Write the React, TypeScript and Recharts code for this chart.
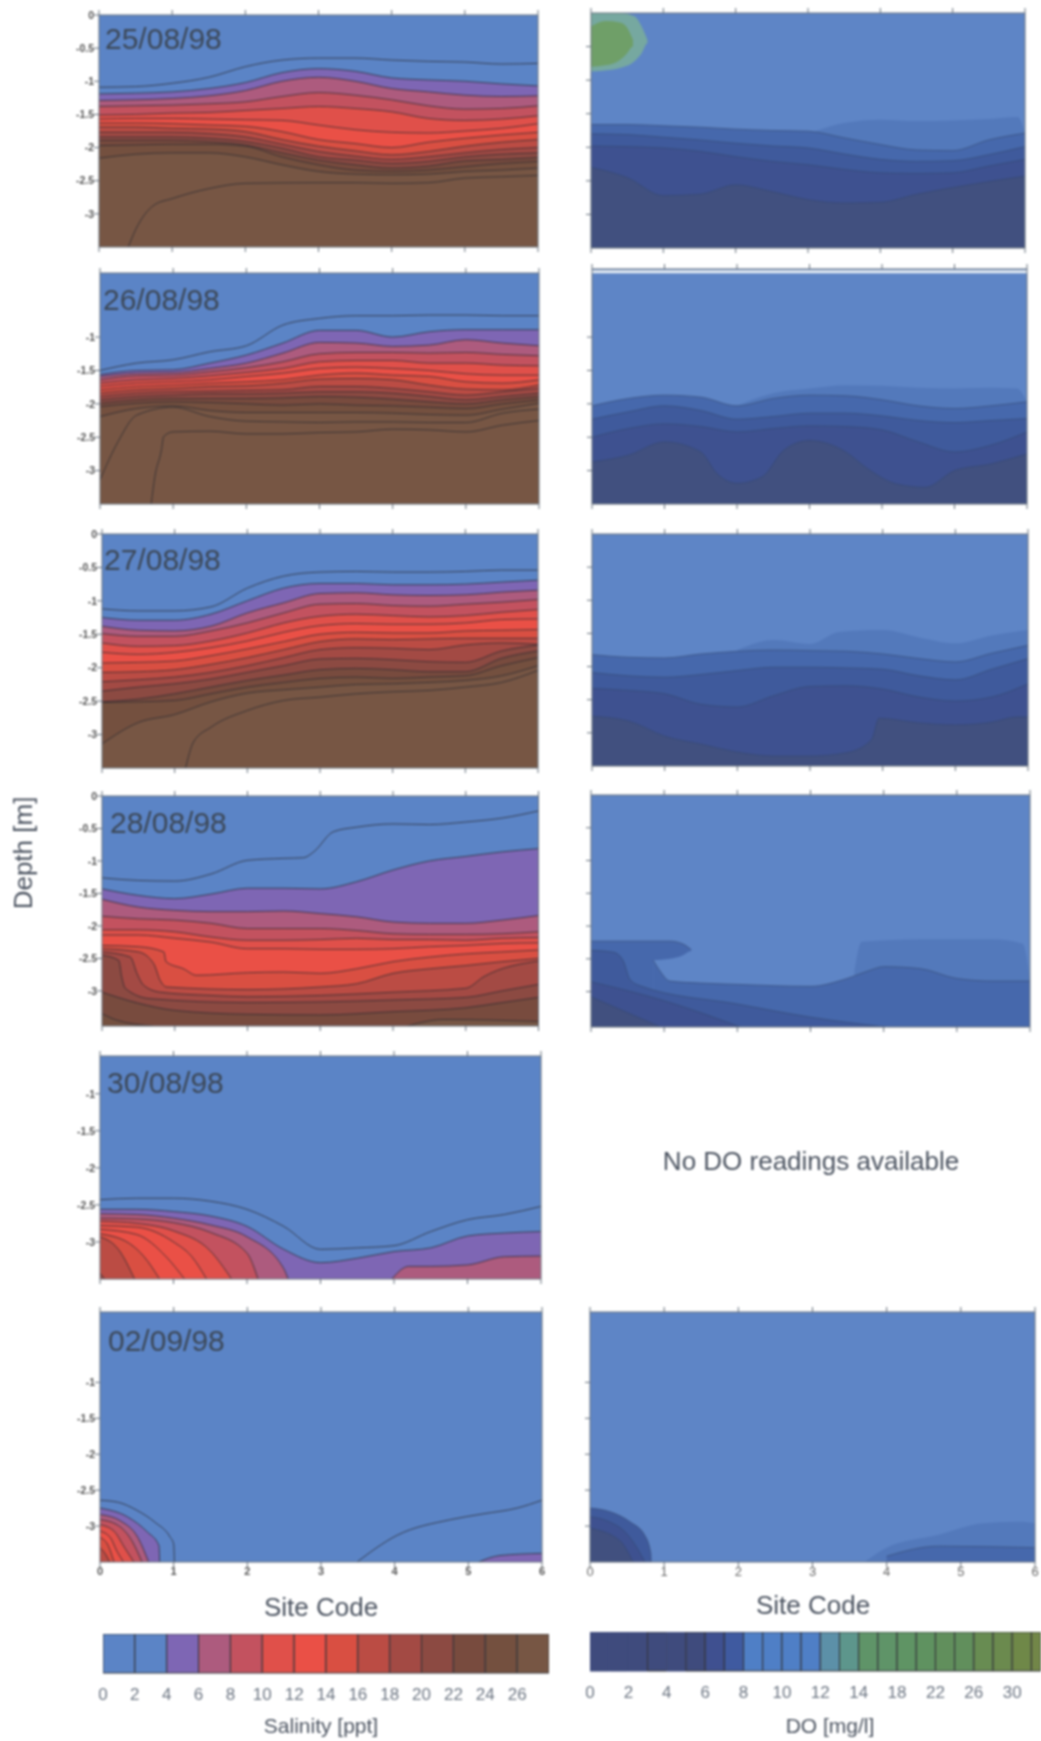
import React from 'react';
import { AreaChart, Area, BarChart, Bar, XAxis, YAxis, CartesianGrid, ReferenceLine } from 'recharts';

type Contour = { x: number[]; y: number[] };

const FONT = '"Liberation Sans", Arial, sans-serif';

// contour depth [m] per site, most lines read at half-site steps
const halfSites = [0, 0.5, 1, 1.5, 2, 2.5, 3, 3.5, 4, 4.5, 5, 5.5, 6];
const line = (y: number[], x: number[] = halfSites): Contour => ({ x, y });

const siteTicks = [0, 1, 2, 3, 4, 5, 6];
const depthTicksFull = [0, 0.5, 1, 1.5, 2, 2.5, 3];
const depthTicksHalf = [0.5, 1, 1.5, 2, 2.5, 3];
const depthTicksLow = [1, 1.5, 2, 2.5, 3];

const salinity2508 = [
  line([1.09, 1.08, 1.03, 0.94, 0.78, 0.68, 0.65, 0.65, 0.68, 0.7, 0.71, 0.74, 0.73]),
  line([1.19, 1.18, 1.16, 1.11, 1.02, 0.87, 0.81, 0.85, 0.95, 0.98, 1.0, 1.04, 1.07]),
  line([1.29, 1.28, 1.26, 1.22, 1.14, 1.0, 0.94, 1.0, 1.11, 1.16, 1.21, 1.23, 1.22]),
  line([1.38, 1.37, 1.36, 1.34, 1.31, 1.23, 1.17, 1.21, 1.28, 1.37, 1.42, 1.41, 1.37]),
  line([1.51, 1.5, 1.48, 1.47, 1.44, 1.41, 1.38, 1.41, 1.46, 1.56, 1.59, 1.57, 1.52]),
  line([1.57, 1.56, 1.56, 1.57, 1.58, 1.59, 1.66, 1.73, 1.77, 1.78, 1.75, 1.71, 1.64]),
  line([1.63, 1.63, 1.64, 1.66, 1.68, 1.76, 1.88, 1.94, 2.0, 1.92, 1.86, 1.81, 1.77]),
  line([1.69, 1.69, 1.71, 1.72, 1.76, 1.88, 1.98, 2.05, 2.11, 2.06, 1.98, 1.92, 1.88]),
  line([1.77, 1.77, 1.77, 1.79, 1.84, 1.95, 2.06, 2.13, 2.18, 2.14, 2.08, 2.03, 2.0]),
  line([1.84, 1.84, 1.84, 1.86, 1.91, 2.01, 2.14, 2.19, 2.24, 2.21, 2.14, 2.1, 2.08]),
  line([1.89, 1.89, 1.89, 1.91, 1.96, 2.08, 2.19, 2.26, 2.31, 2.28, 2.2, 2.18, 2.15]),
  line([1.97, 1.96, 1.95, 1.95, 1.98, 2.14, 2.26, 2.34, 2.36, 2.34, 2.29, 2.24, 2.21]),
  line([2.16, 2.1, 2.08, 2.08, 2.14, 2.26, 2.36, 2.4, 2.41, 2.4, 2.36, 2.34, 2.31]),
  line(
    [3.5, 3.24, 2.87, 2.77, 2.62, 2.54, 2.53, 2.53, 2.54, 2.53, 2.46, 2.44, 2.42],
    [0.4, 0.5, 0.75, 1, 1.5, 2, 3, 3.5, 4, 4.5, 5, 5.5, 6],
  ),
];

const salinity2608 = [
  line([1.5, 1.39, 1.34, 1.22, 1.13, 0.82, 0.72, 0.68, 0.68, 0.67, 0.67, 0.68, 0.68]),
  line([1.56, 1.5, 1.49, 1.39, 1.27, 1.09, 0.9, 0.9, 1.0, 0.92, 0.89, 0.89, 0.89]),
  line([1.59, 1.54, 1.53, 1.47, 1.39, 1.24, 1.08, 1.09, 1.14, 1.12, 1.04, 1.09, 1.13]),
  line([1.64, 1.58, 1.57, 1.52, 1.46, 1.37, 1.25, 1.23, 1.23, 1.24, 1.23, 1.26, 1.28]),
  line([1.69, 1.64, 1.62, 1.58, 1.53, 1.47, 1.37, 1.35, 1.35, 1.39, 1.39, 1.42, 1.43]),
  line([1.74, 1.69, 1.67, 1.64, 1.59, 1.54, 1.47, 1.45, 1.47, 1.5, 1.55, 1.57, 1.57]),
  line([1.79, 1.74, 1.72, 1.69, 1.67, 1.64, 1.57, 1.54, 1.57, 1.59, 1.67, 1.69, 1.64]),
  line([1.84, 1.79, 1.77, 1.74, 1.73, 1.69, 1.63, 1.62, 1.64, 1.72, 1.78, 1.79, 1.72]),
  line([1.89, 1.84, 1.82, 1.81, 1.8, 1.79, 1.74, 1.74, 1.77, 1.82, 1.87, 1.82, 1.77]),
  line([1.94, 1.89, 1.87, 1.85, 1.85, 1.84, 1.82, 1.82, 1.84, 1.89, 1.94, 1.89, 1.84]),
  line([1.99, 1.94, 1.92, 1.92, 1.92, 1.91, 1.89, 1.9, 1.93, 1.97, 2.0, 1.94, 1.89]),
  line([2.04, 1.99, 1.97, 1.98, 2.0, 2.02, 2.0, 2.02, 2.03, 2.05, 2.07, 2.0, 1.94]),
  line([2.19, 2.07, 2.03, 2.1, 2.13, 2.13, 2.13, 2.13, 2.14, 2.16, 2.17, 2.08, 1.99]),
  line(
    [3.14, 2.56, 2.17, 2.05, 2.19, 2.26, 2.27, 2.28, 2.27, 2.27, 2.28, 2.28, 2.14, 2.08],
    [0, 0.25, 0.5, 1, 1.5, 2, 2.5, 3, 3.5, 4, 4.5, 5, 5.5, 6],
  ),
  line(
    [3.5, 3.09, 2.69, 2.49, 2.42, 2.41, 2.45, 2.45, 2.43, 2.42, 2.38, 2.39, 2.42, 2.32, 2.25],
    [0.7, 0.75, 0.84, 0.87, 1, 1.5, 2, 2.5, 3, 3.5, 4, 4.5, 5, 5.5, 6],
  ),
];

const salinity2708 = [
  line([1.12, 1.15, 1.15, 1.09, 0.81, 0.63, 0.57, 0.56, 0.57, 0.57, 0.56, 0.54, 0.54]),
  line([1.25, 1.29, 1.29, 1.2, 1.0, 0.81, 0.74, 0.74, 0.76, 0.76, 0.75, 0.72, 0.69]),
  line([1.38, 1.44, 1.45, 1.38, 1.18, 1.03, 0.89, 0.88, 0.91, 0.92, 0.91, 0.87, 0.84]),
  line([1.49, 1.53, 1.53, 1.45, 1.33, 1.18, 1.05, 1.04, 1.07, 1.08, 1.05, 1.02, 0.98]),
  line([1.63, 1.68, 1.67, 1.6, 1.48, 1.33, 1.23, 1.2, 1.22, 1.24, 1.22, 1.17, 1.13]),
  line([1.77, 1.8, 1.77, 1.7, 1.6, 1.47, 1.37, 1.34, 1.35, 1.35, 1.33, 1.28, 1.27]),
  line([1.93, 1.92, 1.9, 1.82, 1.72, 1.61, 1.5, 1.47, 1.48, 1.48, 1.45, 1.44, 1.43]),
  line([2.07, 2.06, 2.03, 1.95, 1.85, 1.73, 1.61, 1.57, 1.58, 1.57, 1.56, 1.56, 1.56]),
  line([2.21, 2.18, 2.14, 2.07, 1.97, 1.85, 1.73, 1.7, 1.71, 1.73, 1.66, 1.63, 1.65]),
  line([2.35, 2.29, 2.24, 2.17, 2.07, 1.97, 1.87, 1.86, 1.88, 1.91, 1.92, 1.75, 1.66]),
  line([2.51, 2.47, 2.39, 2.29, 2.19, 2.11, 2.03, 2.01, 2.03, 2.06, 2.06, 1.86, 1.75]),
  line([2.52, 2.51, 2.49, 2.39, 2.29, 2.22, 2.16, 2.14, 2.16, 2.14, 2.12, 1.97, 1.85]),
  line([3.14, 2.82, 2.7, 2.51, 2.38, 2.33, 2.29, 2.25, 2.24, 2.22, 2.19, 2.12, 1.97]),
  line(
    [3.5, 3.11, 2.89, 2.64, 2.49, 2.44, 2.39, 2.36, 2.34, 2.29, 2.22, 2.04],
    [1.15, 1.26, 1.5, 2, 2.5, 3, 3.5, 4, 4.5, 5, 5.5, 6],
  ),
];

const salinity2808 = [
  line(
    [1.26, 1.3, 1.31, 1.2, 0.99, 0.96, 0.95, 0.86, 0.55, 0.48, 0.43, 0.44, 0.4, 0.34, 0.23],
    [0, 0.5, 1, 1.5, 2, 2.5, 2.77, 2.91, 3.18, 3.5, 4, 4.5, 5, 5.5, 6],
  ),
  line([1.43, 1.53, 1.58, 1.51, 1.42, 1.42, 1.43, 1.32, 1.14, 1.0, 0.93, 0.86, 0.81]),
  line([1.59, 1.71, 1.76, 1.78, 1.78, 1.77, 1.81, 1.86, 1.94, 1.96, 1.96, 1.91, 1.84]),
  line([1.85, 1.89, 1.91, 1.96, 2.04, 2.04, 2.04, 2.07, 2.12, 2.13, 2.13, 2.12, 2.09]),
  line([2.06, 2.06, 2.09, 2.17, 2.22, 2.22, 2.21, 2.19, 2.21, 2.21, 2.22, 2.19, 2.18]),
  line([2.14, 2.14, 2.19, 2.25, 2.35, 2.35, 2.36, 2.36, 2.35, 2.32, 2.3, 2.27, 2.26]),
  line(
    [2.3, 2.32, 2.4, 2.55, 2.66, 2.76, 2.72, 2.71, 2.73, 2.66, 2.55, 2.48, 2.43, 2.4, 2.37],
    [0, 0.5, 0.85, 0.88, 1.12, 1.3, 2, 2.5, 3, 3.5, 4, 4.5, 5, 5.5, 6],
  ),
  line(
    [2.35, 2.4, 2.58, 2.84, 2.94, 2.98, 2.94, 2.89, 2.73, 2.66, 2.61, 2.55, 2.5],
    [0, 0.5, 0.71, 0.8, 0.89, 2, 3, 3.5, 4, 4.5, 5, 5.5, 6],
  ),
  line(
    [2.4, 2.48, 2.73, 2.91, 3.02, 3.07, 3.09, 3.07, 3.02, 2.96, 2.78, 2.54],
    [0, 0.39, 0.48, 0.57, 0.8, 1.5, 2, 3, 4, 5, 5.25, 6],
  ),
  line(
    [2.45, 2.53, 2.78, 2.96, 3.12, 3.18, 3.17, 3.14, 3.1, 3.0, 2.9],
    [0, 0.23, 0.27, 0.32, 0.66, 2, 3, 4, 5, 5.5, 6],
  ),
  line(
    [3.02, 3.19, 3.3, 3.36, 3.37, 3.32, 3.26, 3.18, 3.1],
    [0, 0.5, 1, 2, 3, 4, 5, 5.5, 6],
  ),
  line([3.35, 3.45, 3.54], [0, 0.2, 0.7]),
  line([3.54, 3.44, 3.47], [4.2, 4.7, 6]),
];

const salinity3008 = [
  line([2.43, 2.41, 2.41, 2.45, 2.56, 2.79, 3.1, 3.08, 3.05, 2.86, 2.7, 2.63, 2.52]),
  line([2.56, 2.56, 2.59, 2.65, 2.79, 3.1, 3.28, 3.22, 3.13, 3.08, 2.92, 2.88, 2.86]),
  line([2.62, 2.63, 2.68, 2.77, 2.93, 3.36, 3.5], [0, 0.5, 1, 1.5, 2, 2.5, 2.56]),
  line([3.5, 3.33, 3.33, 3.31, 3.2, 3.19], [3.97, 4.2, 4.5, 5, 5.5, 6]),
  line([2.68, 2.69, 2.74, 2.87, 3.15, 3.5], [0, 0.5, 1, 1.5, 2, 2.15]),
  line([2.72, 2.75, 2.85, 3.12, 3.5], [0, 0.5, 1, 1.5, 1.79]),
  line([2.78, 2.8, 3.0, 3.2, 3.5], [0, 0.5, 1, 1.25, 1.45]),
  line([2.83, 2.9, 3.2, 3.5], [0, 0.5, 0.9, 1.15]),
  line([2.89, 3.02, 3.2, 3.5], [0, 0.4, 0.6, 0.81]),
  line([2.93, 3.1, 3.5], [0, 0.25, 0.47]),
  line([3.42, 3.5], [0, 0.06]),
];

const salinity0209 = [
  line([2.64, 2.67, 2.78, 2.95, 3.15, 3.25, 3.5], [0, 0.25, 0.5, 0.75, 0.95, 1, 1.01]),
  line([3.5, 3.13, 2.91, 2.83, 2.75, 2.64], [3.49, 4.03, 4.76, 5.2, 5.66, 6]),
  line([2.75, 2.87, 3.08, 3.27, 3.5], [0, 0.37, 0.64, 0.8, 0.81]),
  line([3.5, 3.41, 3.38], [5.14, 5.43, 6]),
  line([2.84, 2.93, 3.17, 3.5], [0, 0.28, 0.52, 0.66]),
  line([2.91, 2.98, 3.2, 3.5], [0, 0.23, 0.43, 0.57]),
  line([2.98, 3.07, 3.31, 3.5], [0, 0.19, 0.34, 0.46]),
  line([3.07, 3.16, 3.35, 3.5], [0, 0.14, 0.23, 0.32]),
  line([3.16, 3.25, 3.5], [0, 0.1, 0.19]),
  line([3.3, 3.4, 3.5], [0, 0.08, 0.13]),
];

const dissolved2508 = [
  line([0, 0, 0, 0.05, 0.2, 0.4], [0, 0.25, 0.4, 0.6, 0.7, 0.78]),
  line([0.2, 0.12, 0.14, 0.22, 0.4], [0, 0.2, 0.4, 0.5, 0.58]),
  line([0.8, 0.78, 0.7, 0.6, 0.5, 0.5], [0, 0.2, 0.4, 0.5, 0.58, 0.72]),
  line([0.87, 0.85, 0.82, 0.72, 0.6, 0.45, 0.45], [0, 0.25, 0.4, 0.6, 0.7, 0.78, 0.95]),
  line([1.76, 1.64, 1.59, 1.61, 1.6, 1.58, 1.55, 1.79], [3.1, 3.5, 4, 4.5, 5, 5.5, 5.9, 6]),
  line([1.66, 1.66, 1.68, 1.7, 1.73, 1.75, 1.76, 1.86, 1.96, 2.04, 2.05, 1.89, 1.79]),
  line([1.8, 1.81, 1.85, 1.89, 1.94, 1.98, 2.01, 2.1, 2.18, 2.21, 2.2, 2.11, 1.99]),
  line([1.98, 1.99, 2.01, 2.06, 2.14, 2.21, 2.26, 2.33, 2.38, 2.39, 2.38, 2.28, 2.18]),
  line([2.3, 2.45, 2.72, 2.7, 2.56, 2.66, 2.78, 2.83, 2.82, 2.7, 2.6, 2.51, 2.43]),
];

const dissolved2608 = [
  line([2.03, 1.84, 1.77, 1.72, 1.73, 1.76, 1.77, 1.76, 1.77, 1.97], [2, 2.5, 3, 3.5, 4, 4.5, 5, 5.5, 5.86, 6]),
  line([2.03, 1.92, 1.87, 1.9, 2.03, 1.92, 1.87, 1.88, 1.94, 2.03, 2.07, 2.03, 1.97]),
  line([2.23, 2.12, 2.03, 2.1, 2.23, 2.19, 2.14, 2.14, 2.18, 2.25, 2.28, 2.25, 2.22]),
  line([2.5, 2.37, 2.3, 2.34, 2.42, 2.37, 2.33, 2.34, 2.39, 2.57, 2.72, 2.62, 2.42]),
  line(
    [2.87, 2.77, 2.57, 2.72, 3.04, 3.19, 3.09, 2.69, 2.55, 2.72, 2.97, 3.2, 3.25, 3.0, 2.9, 2.75],
    [0, 0.5, 1, 1.5, 1.72, 2, 2.35, 2.65, 3, 3.5, 3.8, 4.2, 4.6, 5, 5.5, 6],
  ),
];

const dissolved2708 = [
  line([1.75, 1.6, 1.66, 1.48, 1.45, 1.56, 1.65, 1.53, 1.45], [2, 2.5, 3, 3.4, 4, 4.5, 5, 5.5, 6]),
  line([1.82, 1.86, 1.87, 1.81, 1.77, 1.75, 1.76, 1.77, 1.81, 1.88, 1.93, 1.8, 1.68]),
  line([2.09, 2.14, 2.16, 2.12, 2.06, 2.01, 2.01, 2.02, 2.04, 2.14, 2.2, 2.04, 1.88]),
  line([2.33, 2.36, 2.41, 2.57, 2.61, 2.44, 2.3, 2.29, 2.34, 2.46, 2.52, 2.46, 2.26]),
  line(
    [2.75, 2.82, 3.05, 3.17, 3.29, 3.35, 3.35, 3.3, 3.1, 2.78, 2.85, 2.88, 2.84, 2.76, 2.76],
    [0, 0.5, 1, 1.5, 2, 2.5, 3, 3.5, 3.85, 3.95, 4.5, 5, 5.5, 5.85, 6],
  ),
];

const dissolved2808 = [
  line([2.7, 2.24, 2.2, 2.2, 2.27, 2.83], [3.6, 3.7, 4.5, 5.5, 5.9, 6]),
  line([2.23, 2.23, 2.23, 2.23, 2.27, 2.36], [0, 0.5, 1, 1.08, 1.25, 1.37]),
  line([2.52, 2.5, 2.45, 2.38, 2.38], [0.85, 1.08, 1.25, 1.37, 1.55]),
  line(
    [2.52, 2.68, 2.84, 2.87, 2.89, 2.91, 2.92, 2.8, 2.68, 2.62, 2.65, 2.8, 2.84, 2.84],
    [0.85, 0.94, 1.08, 1.5, 2, 2.5, 3, 3.5, 3.8, 4, 4.5, 5, 5.5, 6],
  ),
  line([2.37, 2.4, 2.53, 2.81, 2.91, 3.19, 3.39, 3.54], [0, 0.31, 0.44, 0.53, 0.67, 2, 3, 4.02]),
  line([2.85, 3.14, 3.54], [0, 1, 2.04]),
  line([3.08, 3.54], [0, 0.95]),
];

const dissolved0209 = [
  line([3.5, 3.3, 3.12, 2.96, 2.94, 2.96], [3.7, 4, 4.7, 5.3, 5.8, 6]),
  line([3.42, 3.28, 3.3], [4, 4.7, 6]),
  line([2.75, 2.8, 2.94, 3.13, 3.38, 3.5], [0, 0.27, 0.54, 0.74, 0.82, 0.825]),
  line([2.87, 2.94, 3.1, 3.33, 3.5], [0, 0.26, 0.49, 0.65, 0.74]),
  line([3.03, 3.2, 3.5], [0, 0.4, 0.58]),
];

// colour bars
const salCellSpans = [2, 2, 2, 2, 2, 2, 2, 2, 2, 2, 2, 2, 2, 2];
const salTicks = [0, 2, 4, 6, 8, 10, 12, 14, 16, 18, 20, 22, 24, 26];
const doCellSpans = [1, 1, 1, 1, 1, 1, 1, 1, 1, 1, 1, 1, 1, 1, 1, 1, 1, 1, 1, 1, 1, 1, 1, 1];
const doTickSlots = [0, 2, 4, 6, 8, 10, 12, 14, 16, 18, 20, 22];
const doTickLabels = ['0', '2', '4', '6', '8', '10', '12', '14', '18', '22', '26', '30'];
const doFaintCells = [0, 1, 2, 4];

const salFills = [
  '#5b84c6', '#5b84c6', '#7e66b4', '#ad5b7e', '#c3525f', '#e0504a', '#ea5046',
  '#d94f42', '#bb4c44', '#a34a44', '#8c4a42', '#784b3e', '#74503f', '#775644', '#775644',
];
const doPanelFills = ['#5e85c6', '#5379bb', '#4668ac', '#3f5a9c', '#3e5190', '#41507f', '#445078', '#76a8a0', '#6f9f68'];
const doBarFills = [
  '#3f4b7d', '#3f4b7d', '#3f4b7d', '#3f4b7d', '#3f4b7d', '#3f4b7d', '#3f5090', '#3f5aa0',
  '#4f7fc6', '#4f7fc6', '#4f7fc6', '#4f7fc6', '#5c90a8', '#5d968c', '#5f9468', '#5f9468',
  '#5f9464', '#5f9260', '#618f5c', '#618f5c', '#688c52', '#6b8a4e', '#6f8848', '#728648',
];

const seq = (n: number) => Array.from({ length: n }, (_, i) => Math.min(i + 1, salFills.length - 1));

type Panel = {
  x0: number; x1: number; y0: number; y1: number;
  top: number; bottom: number;
  ticks: number[];
  lines: Contour[];
  levels: number[];
  fills: string[];
  strokes: (level: number) => string;
  lineOpacity: number;
  yLabels?: boolean;
  xLabels?: 'bold' | 'plain';
  date?: { text: string; x: number; y: number };
  stripe?: number;
};

const salStroke = () => '#2a2a30';
const doStroke = (level: number) => (level >= 2 && level <= 6 ? '#33486e' : 'none');

const panels: Panel[] = [
  { x0: 99, x1: 538, y0: 15, y1: 247, top: 0, bottom: 3.5, ticks: depthTicksFull, lines: salinity2508, levels: seq(14), fills: salFills, strokes: salStroke, lineOpacity: 0.75, yLabels: true, date: { text: '25/08/98', x: 105, y: 39 } },
  { x0: 100, x1: 539, y0: 273, y1: 504, top: 0.04, bottom: 3.5, ticks: depthTicksLow, lines: salinity2608, levels: seq(15), fills: salFills, strokes: salStroke, lineOpacity: 0.75, yLabels: true, date: { text: '26/08/98', x: 103, y: 300 } },
  { x0: 102, x1: 538, y0: 534, y1: 768, top: 0, bottom: 3.5, ticks: depthTicksFull, lines: salinity2708, levels: seq(14), fills: salFills, strokes: salStroke, lineOpacity: 0.75, yLabels: true, date: { text: '27/08/98', x: 104, y: 560 } },
  { x0: 102, x1: 538.5, y0: 796, y1: 1026, top: 0, bottom: 3.54, ticks: depthTicksFull, lines: salinity2808, levels: seq(13), fills: salFills, strokes: salStroke, lineOpacity: 0.75, yLabels: true, date: { text: '28/08/98', x: 110, y: 823 } },
  { x0: 100, x1: 541, y0: 1056, y1: 1279, top: 0.49, bottom: 3.5, ticks: depthTicksLow, lines: salinity3008, levels: [1, 2, 3, 3, 4, 5, 6, 6, 7, 8, 9], fills: salFills, strokes: salStroke, lineOpacity: 0.75, yLabels: true, date: { text: '30/08/98', x: 107, y: 1083 } },
  { x0: 100, x1: 542, y0: 1312, y1: 1562, top: 0.02, bottom: 3.5, ticks: depthTicksLow, lines: salinity0209, levels: [1, 1, 2, 2, 3, 4, 5, 6, 7, 8], fills: salFills, strokes: salStroke, lineOpacity: 0.75, yLabels: true, xLabels: 'bold', date: { text: '02/09/98', x: 108, y: 1341 } },
  { x0: 591, x1: 1025, y0: 13, y1: 248, top: 0, bottom: 3.5, ticks: depthTicksHalf, lines: dissolved2508, levels: [7, 8, 7, 0, 1, 2, 3, 4, 5], fills: doPanelFills, strokes: doStroke, lineOpacity: 0.6 },
  { x0: 592, x1: 1027, y0: 269, y1: 504, top: -0.02, bottom: 3.5, ticks: depthTicksLow, lines: dissolved2608, levels: [1, 2, 3, 4, 5], fills: doPanelFills, strokes: doStroke, lineOpacity: 0.6, stripe: 0.02 },
  { x0: 592, x1: 1028, y0: 534, y1: 766, top: 0, bottom: 3.5, ticks: depthTicksHalf, lines: dissolved2708, levels: [1, 2, 3, 4, 5], fills: doPanelFills, strokes: doStroke, lineOpacity: 0.6 },
  { x0: 591, x1: 1030, y0: 795, y1: 1027, top: 0, bottom: 3.54, ticks: depthTicksHalf, lines: dissolved2808, levels: [1, 2, 0, 2, 3, 4, 5], fills: doPanelFills, strokes: doStroke, lineOpacity: 0.6 },
  { x0: 590, x1: 1035, y0: 1312, y1: 1562, top: 0.02, bottom: 3.5, ticks: depthTicksLow, lines: dissolved0209, levels: [1, 2, 3, 4, 5], fills: doPanelFills, strokes: doStroke, lineOpacity: 0.6, xLabels: 'plain' },
];

const Y_W = 40;
const SIDE = 8;
const noLabel = () => '';

// every contour keeps its own sites, so rows are the union and gaps get connected
function buildTable(lines: Contour[]) {
  const xs = Array.from(new Set(lines.flatMap((l) => l.x))).sort((a, b) => a - b);
  return xs.map((x) => {
    const row: Record<string, number> = { x };
    lines.forEach((l, i) => {
      const k = l.x.indexOf(x);
      if (k >= 0) row[`c${i}`] = l.y[k];
    });
    return row;
  });
}

function ContourPanel({ p }: { p: Panel }) {
  const bottomH = p.xLabels ? 24 : SIDE;
  const axisColor = '#66707c';
  const xTick = p.xLabels === 'bold'
    ? { fontSize: 11, fontWeight: 'bold', fill: '#555', fontFamily: FONT }
    : { fontSize: 13, fill: '#666', fontFamily: FONT };
  return (
    <div style={{ position: 'absolute', left: p.x0 - Y_W, top: p.y0 - SIDE }}>
      <AreaChart
        width={p.x1 - p.x0 + Y_W + SIDE}
        height={p.y1 - p.y0 + SIDE + bottomH}
        data={buildTable(p.lines)}
        margin={{ top: 0, right: 0, bottom: 0, left: 0 }}
      >
        <CartesianGrid fill={p.fills[0]} stroke="none" horizontal={false} vertical={false} />
        <XAxis dataKey="x" type="number" domain={[0, 6]} ticks={siteTicks} interval={0} allowDataOverflow
          height={bottomH} tickSize={5} tickMargin={0} stroke={axisColor} tick={xTick}
          tickFormatter={p.xLabels ? undefined : noLabel} />
        <XAxis xAxisId="top" orientation="top" dataKey="x" type="number" domain={[0, 6]} ticks={siteTicks} interval={0}
          height={SIDE} tickSize={5} stroke={axisColor} tickFormatter={noLabel} />
        <YAxis type="number" reversed domain={[p.top, p.bottom]} ticks={p.ticks} interval={0} allowDataOverflow
          width={Y_W} tickSize={5} tickMargin={0} stroke={axisColor}
          tick={{ fontSize: 10.5, fontWeight: 'bold', fill: '#555', fontFamily: FONT }}
          tickFormatter={p.yLabels ? (v: number) => (v === 0 ? '0' : `-${v}`) : noLabel} />
        <YAxis yAxisId="right" orientation="right" type="number" reversed domain={[p.top, p.bottom]} ticks={p.ticks} interval={0}
          width={SIDE} tickSize={5} stroke={axisColor} tickFormatter={noLabel} />
        {p.lines.map((_, i) => (
          <Area
            key={i}
            type="monotone"
            dataKey={`c${i}`}
            baseValue={p.bottom}
            connectNulls
            fill={p.fills[p.levels[i]]}
            fillOpacity={1}
            stroke={p.strokes(p.levels[i])}
            strokeWidth={1}
            strokeOpacity={p.lineOpacity}
            dot={false}
            activeDot={false}
            isAnimationActive={false}
          />
        ))}
        {p.stripe != null && <ReferenceLine y={p.stripe} stroke="#e6edf3" strokeWidth={3} />}
      </AreaChart>
    </div>
  );
}

function ColorBar({ left, width, top, spans, fills, domain, ticks, labels, faint = [] }: {
  left: number; width: number; top: number; spans: number[]; fills: string[];
  domain: [number, number]; ticks: number[]; labels?: string[]; faint?: number[];
}) {
  const row: Record<string, number | string> = { name: 'scale' };
  spans.forEach((s, i) => { row[`c${i}`] = s; });
  return (
    <div style={{ position: 'absolute', left: left - 20, top }}>
      <BarChart
        width={width + 20}
        height={39 + 34}
        layout="vertical"
        data={[row]}
        barCategoryGap={0}
        margin={{ top: 0, right: 0, bottom: 0, left: 20 }}
      >
        <XAxis type="number" domain={domain} ticks={ticks} interval={0} allowDataOverflow height={34}
          axisLine={false} tickLine={false} tickMargin={9}
          tick={{ fontSize: 17, fill: '#6c7582', fontFamily: FONT }}
          tickFormatter={(v: number) => (labels ? labels[ticks.indexOf(v)] : String(v))} />
        <YAxis type="category" dataKey="name" hide />
        {spans.map((_, i) => (
          <Bar
            key={i}
            dataKey={`c${i}`}
            stackId="scale"
            fill={fills[i]}
            stroke={faint.includes(i) ? fills[i] : '#33343a'}
            strokeWidth={1}
            isAnimationActive={false}
          />
        ))}
      </BarChart>
    </div>
  );
}

const caption = (text: string, x: number, y: number, size: number) => (
  <div
    key={text + x}
    style={{
      position: 'absolute', left: x, top: y, transform: 'translate(-50%, -50%)', whiteSpace: 'nowrap',
      fontSize: size, lineHeight: 1, color: '#4b5360', fontFamily: FONT,
    }}
  >
    {text}
  </div>
);

export default function App() {
  return (
    <div style={{ position: 'absolute', left: 0, top: 0, width: 1041, height: 1741, overflow: 'hidden', background: '#fff' }}>
      <div style={{ position: 'absolute', inset: 0, filter: 'blur(0.8px)' }}>
        {panels.map((p, i) => <ContourPanel key={i} p={p} />)}
        {panels.filter((p) => p.date).map((p) => (
          <div
            key={p.date!.text}
            style={{
              position: 'absolute', left: p.date!.x, top: p.date!.y, transform: 'translateY(-50%)',
              fontSize: 30, lineHeight: 1, color: '#3c4858', fontFamily: FONT,
            }}
          >
            {p.date!.text}
          </div>
        ))}
        <ColorBar left={103} width={446} top={1634} spans={salCellSpans} fills={salFills} domain={[0, 28]} ticks={salTicks} />
        <ColorBar left={590} width={451} top={1632} spans={doCellSpans} fills={doBarFills} domain={[0, 23.5]} ticks={doTickSlots} labels={doTickLabels} faint={doFaintCells} />
        {caption('No DO readings available', 811, 1161, 26)}
        {caption('Site Code', 321, 1607, 26)}
        {caption('Site Code', 813, 1605, 26)}
        {caption('Salinity [ppt]', 321, 1725, 21)}
        {caption('DO [mg/l]', 830, 1725, 21)}
        <div
          style={{
            position: 'absolute', left: 23, top: 853, transform: 'translate(-50%, -50%) rotate(-90deg)',
            whiteSpace: 'nowrap', fontSize: 26, lineHeight: 1, color: '#4b5360', fontFamily: FONT,
          }}
        >
          Depth [m]
        </div>
      </div>
    </div>
  );
}
